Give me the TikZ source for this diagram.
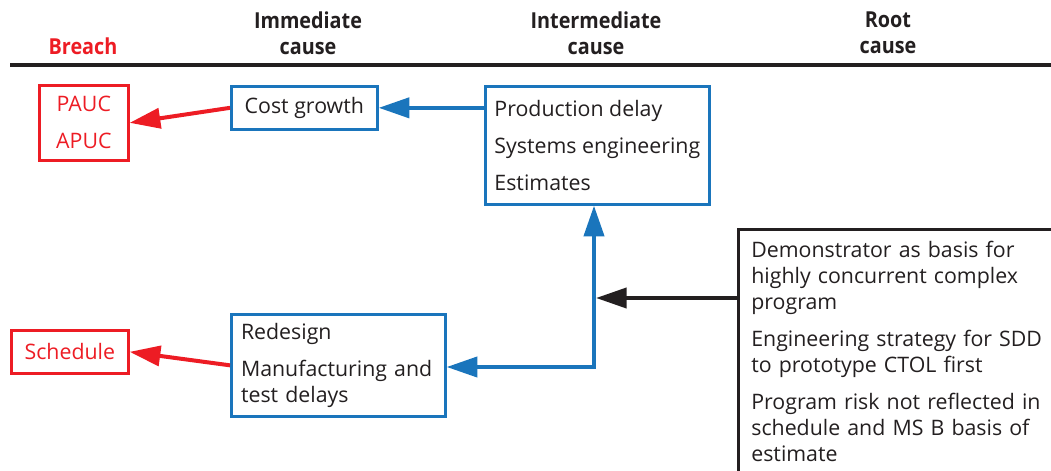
\documentclass[tikz,border=0pt]{standalone}
\usepackage{fontspec}
\setmainfont{Open Sans}
\newfontfamily\hdrfont[FakeStretch=0.9]{Open Sans}
\usetikzlibrary{arrows.meta}
\definecolor{brred}{HTML}{ED1C24}
\definecolor{brblue}{HTML}{1A75BC}
\definecolor{brblack}{HTML}{231F20}
\begin{document}
\begin{tikzpicture}[x=0.75pt,y=-0.75pt,
  every node/.style={font=\fontsize{16}{19.5}\selectfont, text=brblack},
  hdr/.style={font=\hdrfont\bfseries\fontsize{16.5}{19.5}\selectfont, align=center, text=brblack, inner sep=0pt},
  redbox/.style={draw=brred, line width=2pt, text=brred, align=center, inner sep=0pt, anchor=north west},
  bluebox/.style={draw=brblue, line width=2pt, align=left, inner ysep=0pt, anchor=north west},
  rootbox/.style={draw=brblack, line width=2pt, align=left, anchor=north west, inner xsep=9.75pt, inner ysep=9pt},
  redarrow/.style={-{Triangle[length=23pt,width=15pt]}, draw=brred, line width=3pt},
  bluearrow/.style={{Triangle[length=23pt,width=15pt]}-{Triangle[length=23pt,width=15pt]}, draw=brblue, line width=3pt, line join=miter},
  blackarrow/.style={-{Triangle[length=23pt,width=15pt]}, draw=brblack, line width=3pt},
  blueone/.style={-{Triangle[length=23pt,width=15pt]}, draw=brblue, line width=3pt}
]
\useasboundingbox (0,0) rectangle (1051,471);
\clip (0,0) rectangle (1051,471);

% headers
\node[hdr, text=brred] (hbreach) at (83,46) {Breach};
\node[hdr] (himm) at (308,33) {Immediate\\cause};
\node[hdr] (hint) at (596,33) {Intermediate\\cause};
\node[hdr] (hroot) at (888,33) {Root\\cause};
\draw[brblack, line width=3pt] (10,65) -- (1060,65);

% boxes
\node[redbox, minimum width=66.75pt, minimum height=56.25pt] (pauc) at (38,84) {PAUC\\[8.25pt]APUC};
\node[redbox, minimum width=87.75pt, minimum height=32.25pt] (sched) at (10,329) {Schedule};
\node[bluebox, align=center, minimum width=109.5pt, minimum height=32.25pt, inner xsep=0pt] (cost) at (230,85) {Cost growth};
\node[bluebox, minimum width=168pt, minimum height=88.5pt, inner xsep=6pt] (inter) at (484,85)
  {Production delay\\[8.25pt]Systems engineering\\[8.25pt]Estimates};
\node[bluebox, minimum width=160.5pt, minimum height=76.5pt, text width=146pt, inner xsep=7.25pt] (redes) at (230,313)
  {Redesign\\[8.25pt]Manufacturing and\\test delays};
\node[rootbox, text width=225pt] (root) at (737,228)
  {Demonstrator as basis for\\highly concurrent complex\\program\\[8.25pt]Engineering strategy for SDD\\to prototype CTOL first\\[8.25pt]Program risk not reflected in\\schedule and MS B basis of\\estimate\\[20pt]};

% connectors
\coordinate (j) at (594,367);
\coordinate (jb) at (596,298);
\draw[redarrow] (cost.west) -- (pauc.east);
\draw[redarrow] (redes.west) -- (sched.east);
\draw[blueone] (inter.west |- cost.west) -- (cost.east);
\draw[bluearrow] (j -| redes.east) -- (j) -- (j |- inter.south);
\draw[blackarrow] (root.west |- jb) -- (jb);
\end{tikzpicture}
\end{document}
